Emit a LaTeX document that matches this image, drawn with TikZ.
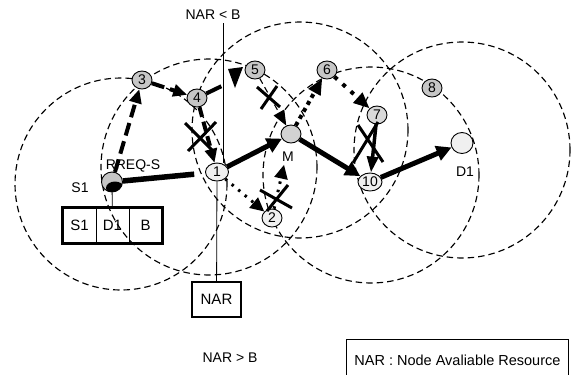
\documentclass[tikz,border=0pt]{standalone}
\usepackage{fontspec}
\setmainfont{Liberation Sans}
\usetikzlibrary{shapes.geometric,arrows.meta,calc}
\begin{document}
\begin{tikzpicture}[x=1bp,y=-1bp,
  rangecircle/.style={line width=1.15bp,dash pattern=on 6.5bp off 4bp},
  mnode/.style={ellipse,draw,line width=0.9bp,minimum width=20bp,minimum height=18bp,inner sep=0pt,font=\fontsize{14bp}{14bp}\selectfont},
  darkn/.style={mnode,fill=gray!45},
  midn/.style={mnode,fill=gray!30},
  lightn/.style={mnode,fill=gray!12},
  lbl/.style={inner sep=0pt,font=\fontsize{14bp}{14bp}\selectfont},
  thickline/.style={line width=5.5bp,shorten >=11bp},
  bigarrow/.style={line width=5bp,-{Triangle[length=15bp,width=15bp]}},
  dasharrow/.style={line width=4bp,dash pattern=on 13bp off 6bp,-{Triangle[length=14bp,width=12bp]}},
  dotarrow/.style={line width=4bp,dash pattern=on 4bp off 4bp,-{Triangle[length=16bp,width=13bp]}},
  smalldot/.style={line width=3bp,dash pattern=on 2.5bp off 6bp,-{Triangle[length=14bp,width=13bp]}},
  thinhead/.style={line width=1.1bp,dash pattern=on 6bp off 4bp,-{Triangle[length=15bp,width=12bp]}},
  medarrow/.style={line width=3.5bp,-{Triangle[length=16bp,width=11bp]}},
  xmark/.style={line width=3bp},
  cell/.style={draw,line width=0.9bp,minimum width=33bp,minimum height=35bp,inner sep=0pt,font=\fontsize{15bp}{15bp}\selectfont},
  boxn/.style={draw,line width=2.5bp,inner sep=0pt,font=\fontsize{15bp}{15bp}\selectfont}
]
\useasboundingbox (0,0) rectangle (574,374);

% range circles
\draw[rangecircle] (121,184) circle (106);
\draw[rangecircle] (209,167) circle (108);
\draw[rangecircle] (300,130) circle (108);
\draw[rangecircle] (371,175) circle (108);
\draw[rangecircle] (462,150) circle (108);

% NAR < B label and line
\node[lbl] (narlt) at (213,15) {NAR < B};
\coordinate (vtop) at (223,23);
\coordinate (vbot) at (223,163);
\draw[line width=0.8bp] (vtop) -- (vbot);

% table
\node[cell] (c1) at (79.5,225.5) {S1};
\node[cell] (c2) at (112.5,225.5) {D1};
\node[cell] (c3) at (145.5,225.5) {B};
\draw[line width=2.5bp] (c1.north west) rectangle (c3.south east);

% NAR box
\node[boxn,minimum width=49bp,minimum height=35bp] (nar) at (216.5,299.5) {NAR};

% nodes
\node[darkn] (n3) at (142,80) {3};
\node[darkn] (n4) at (197,98) {4};
\node[darkn] (n5) at (255,70) {5};
\node[darkn] (n6) at (327,70) {6};
\node[midn] (n7) at (377,115) {7};
\node[darkn] (n8) at (432,88) {8};
\node[lightn,minimum width=23bp] (n1) at (217,172) {1};
\node[lightn] (n2) at (272,218) {2};
\node[lightn,minimum width=24bp] (n10) at (370,182) {10};
\node[mnode,fill=gray!35] (M) at (291,134) {};
\node[lightn,minimum width=22bp,minimum height=21bp] (D1) at (462,143) {};
\node[darkn,minimum width=21bp,minimum height=20bp,
  path picture={\fill[black] ($(path picture bounding box.center)+(3,6)$) ellipse (9 and 6.5);}] (S1) at (112,182) {};

% thin connector lines
\draw[line width=0.8bp] (S1) -- (c2);
\draw[line width=0.8bp] (n1) -- (nar);

% labels
\node[lbl] (rreq) at (133,166) {RREQ-S};
\node[lbl] (s1l) at (80,188) {S1};
\node[lbl] (ml) at (288,157) {M};
\node[lbl] (d1l) at (465,172) {D1};
\node[lbl] (nargt) at (230,358) {NAR > B};

% legend
\node[draw,line width=0.9bp,minimum width=222bp,minimum height=42bp,anchor=north west,inner sep=0pt,
  font=\fontsize{14.5bp}{14.5bp}\selectfont] (legend) at (346,339) {NAR : Node Avaliable Resource};

% route arrows
\draw[thickline] (S1) -- (n1);
\draw[bigarrow] (n1) -- (M);
\draw[bigarrow] (M) -- (n10);
\draw[bigarrow] (n10) -- (D1);
\draw[dasharrow] (S1) -- (n3);
\draw[dasharrow] (n3) -- (n4);
\draw[dasharrow,dash pattern=on 10bp off 5bp] (n4) -- (n1);
\coordinate (c45) at ($(n4)!0.42!(n5)$);
\draw[line width=4bp] (n4) -- (c45);
\fill (228,69) -- (243,67) -- (235,88) -- cycle;
\draw[thinhead] (n5) -- (M);
\draw[dotarrow] (M) -- (n6);
\draw[dotarrow,dash pattern=on 4bp off 7bp] (n6) -- (n7);
\draw[medarrow] (n7) -- (n10);
\draw[smalldot] (n1) -- (n2);
\draw[smalldot,shorten >=22bp] (n2) -- (M);

% crosses
\draw[xmark] (185,123) -- (213,151) (216,122) -- (188,151);
\draw[xmark] (257,87) -- (280,107) (277,86) -- (261,109);
\draw[xmark] (260,190) -- (292,208) (288,185) -- (267,211);
\draw[xmark] (358,125) -- (383,162) (378,122) -- (353,163);
\end{tikzpicture}
\end{document}
